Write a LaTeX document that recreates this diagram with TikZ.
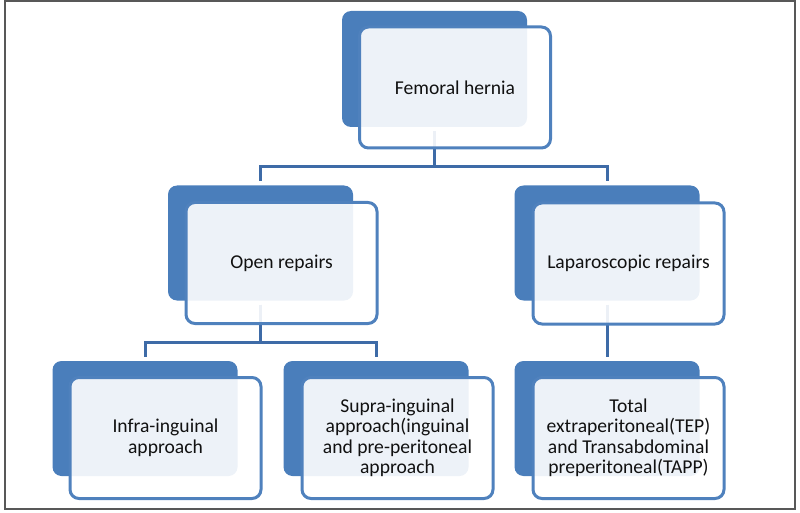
\documentclass[tikz,border=0pt]{standalone}
\usepackage{fontspec}
\setmainfont{Carlito}
\definecolor{backblue}{HTML}{4A7EBB}
\definecolor{edgeblue}{HTML}{4F81BD}
\definecolor{linkblue}{HTML}{3E6BA7}
\definecolor{framegray}{HTML}{585858}
\definecolor{txt}{HTML}{111111}
\tikzset{
  backbox/.style={rectangle, rounded corners=9pt, fill=backblue, draw=none,
    minimum width=185pt, minimum height=115pt, inner sep=0pt},
  frontbox/.style={rectangle, rounded corners=9pt, fill=white, fill opacity=0.9,
    text opacity=1, draw=edgeblue, line width=3pt, minimum width=191pt,
    minimum height=121pt, inner sep=0pt, align=center, text=txt,
    font=\fontsize{19.6pt}{20.5pt}\selectfont},
  link/.style={draw=linkblue, line width=3pt, shorten <=4pt, shorten >=4pt}
}
\begin{document}
\begin{tikzpicture}[x=1pt,y=-1pt]
\useasboundingbox (0,0) rectangle (800,513);
\draw[framegray, line width=1.5pt] (5,1) rectangle (795,509);
% back boxes
\node[backbox, minimum height=116pt] (topB) at (434.5,69) {};
\node[backbox] (openB) at (260.5,243) {};
\node[backbox] (lapB) at (607,243) {};
\node[backbox] (infraB) at (145,418.5) {};
\node[backbox] (supraB) at (376,418.5) {};
\node[backbox] (totalB) at (607,418.5) {};
% connectors
\draw[link] (topB.south) -- ++(0,39) -| (openB.north);
\draw[link] (topB.south) -- ++(0,39) -| (lapB.north);
\draw[link] (openB.south) -- ++(0,42) -| (infraB.north);
\draw[link] (openB.south) -- ++(0,42) -| (supraB.north);
\draw[link] (lapB.south) -- (totalB.north);
% front boxes
\node[frontbox] (top) at (455,87.5) {Femoral hernia};
\node[frontbox] (open) at (281.5,263) {Open repairs};
\node[frontbox] (lap) at (628.5,263.5) {Laparoscopic repairs};
\node[frontbox] (infra) at (165.5,438) {Infra-inguinal\\approach};
\node[frontbox] (supra) at (397.5,438) {Supra-inguinal\\approach(inguinal\\and pre-peritoneal\\approach};
\node[frontbox] (total) at (628.5,438) {Total\\extraperitoneal(TEP)\\and Transabdominal\\preperitoneal(TAPP)};
\end{tikzpicture}
\end{document}
